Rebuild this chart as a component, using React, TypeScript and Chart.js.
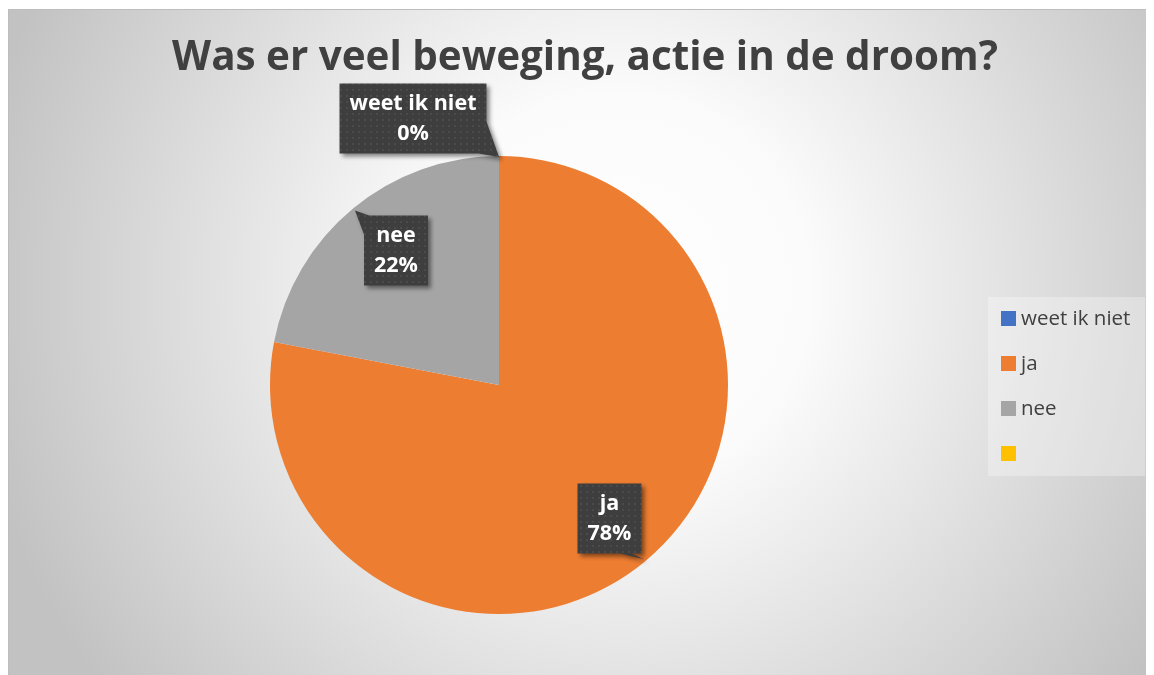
import React, { useEffect, useRef } from 'react';
import { Chart, registerables } from 'chart.js';

Chart.register(...registerables);

// ---- data ----
const chartTitle = 'Was er veel beweging, actie in de droom?';
const categories = ['weet ik niet', 'ja', 'nee', ''];
const values: (number | null)[] = [0, 78, 22, null];
const sliceColors = ['#4472C4', '#ED7D31', '#A5A5A5', '#FFC000'];

// ---- styles ----
const W = 1146;
const H = 666;
const FONT = '"Open Sans", Lato, sans-serif';
const TEXT = '#404040';
const TITLE_WIDTH = 826;

type Box = { l: number; t: number; r: number; b: number };
type Pt = { x: number; y: number };
const labelPlacements: { r: number; dx: number; dy: number; pointer: (b: Box, e: Pt) => number[][] }[] = [
  { r: 1, dx: -86, dy: -37.5, pointer: (b, e) => [[b.r, b.t + 38], [e.x, e.y + 1], [b.r - 8, b.b]] },
  { r: 0.757, dx: 0, dy: 0, pointer: (b) => [[b.r - 21, b.b], [b.r + 3, b.b + 6], [b.r - 10, b.b]] },
  { r: 0.74, dx: 5, dy: -4, pointer: (b) => [[b.l + 5, b.t], [b.l - 9, b.t - 5], [b.l, b.t + 19]] },
  { r: 0.75, dx: 0, dy: 0, pointer: () => [] },
];

function makePattern(ctx: CanvasRenderingContext2D) {
  const c = document.createElement('canvas');
  c.width = 6;
  c.height = 6;
  const p = c.getContext('2d')!;
  p.fillStyle = '#3e3e3e';
  p.fillRect(0, 0, 6, 6);
  p.fillStyle = '#4b4b4b';
  p.fillRect(2, 2, 2, 2);
  return ctx.createPattern(c, 'repeat')!;
}

const decor = {
  id: 'decor',
  beforeDraw(chart: any) {
    const ctx: CanvasRenderingContext2D = chart.ctx;
    ctx.save();
    const cx = W * 0.53;
    const cy = H * 0.42;
    const g = ctx.createRadialGradient(cx, cy, 0, cx, cy, 650);
    g.addColorStop(0, '#ffffff');
    g.addColorStop(0.3, '#fbfbfb');
    g.addColorStop(1, '#c2c2c2');
    ctx.fillStyle = g;
    ctx.fillRect(0, 0, W, H);
    ctx.strokeStyle = '#bdbdbd';
    ctx.lineWidth = 1;
    ctx.strokeRect(0.5, 0.5, W, H);
    ctx.restore();
  },
  afterDraw(chart: any) {
    const ctx: CanvasRenderingContext2D = chart.ctx;
    ctx.save();
    // title
    ctx.fillStyle = TEXT;
    ctx.font = `bold 38px ${FONT}`;
    const m = ctx.measureText(chartTitle).width;
    const fs = Math.min(44, (38 * TITLE_WIDTH) / m);
    ctx.font = `bold ${fs}px ${FONT}`;
    ctx.textAlign = 'center';
    ctx.textBaseline = 'alphabetic';
    ctx.fillText(chartTitle, 577, 61);

    // legend
    ctx.fillStyle = 'rgba(255,255,255,0.3)';
    ctx.fillRect(980, 288, 157, 179);
    ctx.font = `20.5px ${FONT}`;
    ctx.textAlign = 'left';
    ctx.textBaseline = 'middle';
    categories.forEach((c, i) => {
      const yc = 309.5 + i * 45;
      ctx.fillStyle = sliceColors[i];
      ctx.fillRect(993, yc - 7.5, 15, 15);
      ctx.fillStyle = TEXT;
      ctx.fillText(c, 1013, yc + 1);
    });

    // data labels
    const meta = chart.getDatasetMeta(0);
    const total = values.reduce((s: number, v) => s + (v ?? 0), 0);
    const pattern = makePattern(ctx);
    values.forEach((v, i) => {
      if (v === null) return;
      const arc = meta.data[i];
      const { x, y, startAngle, endAngle, outerRadius } = arc.getProps(
        ['x', 'y', 'startAngle', 'endAngle', 'outerRadius'],
        true
      );
      const pl = labelPlacements[i];
      const mid = (startAngle + endAngle) / 2;
      const px = x + Math.cos(mid) * outerRadius * pl.r + pl.dx;
      const py = y + Math.sin(mid) * outerRadius * pl.r + pl.dy;
      const edge = { x: x + Math.cos(mid) * outerRadius, y: y + Math.sin(mid) * outerRadius };
      const lines = [categories[i], Math.round((v / total) * 100) + '%'];
      ctx.font = `bold 21.5px ${FONT}`;
      const tw = Math.max(...lines.map((l) => ctx.measureText(l).width));
      const bw = Math.max(tw + 20, 63);
      const bh = lines.length * 30 + 10;
      const box = { l: px - bw / 2, t: py - bh / 2, r: px + bw / 2, b: py + bh / 2 };
      let tri = pl.pointer(box, edge);
      if (tri.length === 3) {
        const a =
          (tri[1][0] - tri[0][0]) * (tri[2][1] - tri[0][1]) -
          (tri[2][0] - tri[0][0]) * (tri[1][1] - tri[0][1]);
        if (a < 0) tri = [tri[0], tri[2], tri[1]];
      }
      ctx.save();
      ctx.beginPath();
      ctx.rect(box.l, box.t, bw, bh);
      if (tri.length) {
        ctx.moveTo(tri[0][0], tri[0][1]);
        tri.slice(1).forEach((p) => ctx.lineTo(p[0], p[1]));
        ctx.closePath();
      }
      ctx.shadowColor = 'rgba(0,0,0,0.45)';
      ctx.shadowBlur = 4;
      ctx.shadowOffsetX = 3;
      ctx.shadowOffsetY = 3;
      ctx.fillStyle = pattern;
      ctx.fill('nonzero');
      ctx.restore();

      ctx.fillStyle = '#ffffff';
      ctx.textAlign = 'center';
      ctx.textBaseline = 'middle';
      lines.forEach((l, k) => {
        ctx.fillText(l, px, py + (k - (lines.length - 1) / 2) * 30);
      });
    });
    ctx.restore();
  },
};

export default function App() {
  const ref = useRef<HTMLCanvasElement>(null);
  useEffect(() => {
    document.documentElement.style.overflow = 'hidden';
    document.body.style.overflow = 'hidden';
    const chart = new Chart(ref.current!, {
      type: 'pie',
      data: {
        labels: categories,
        datasets: [
          {
            data: values as any,
            backgroundColor: sliceColors,
            borderWidth: 0,
          },
        ],
      },
      options: {
        animation: false,
        responsive: false,
        devicePixelRatio: 1,
        layout: { padding: { left: 262, right: 426, top: 147, bottom: 61 } },
        plugins: {
          legend: { display: false },
          tooltip: { enabled: false },
          title: { display: false },
        },
      },
      plugins: [decor],
    });
    return () => chart.destroy();
  }, []);
  return (
    <div style={{ paddingTop: 1 }}>
      <canvas ref={ref} width={W} height={H} style={{ display: 'block' }} />
    </div>
  );
}
